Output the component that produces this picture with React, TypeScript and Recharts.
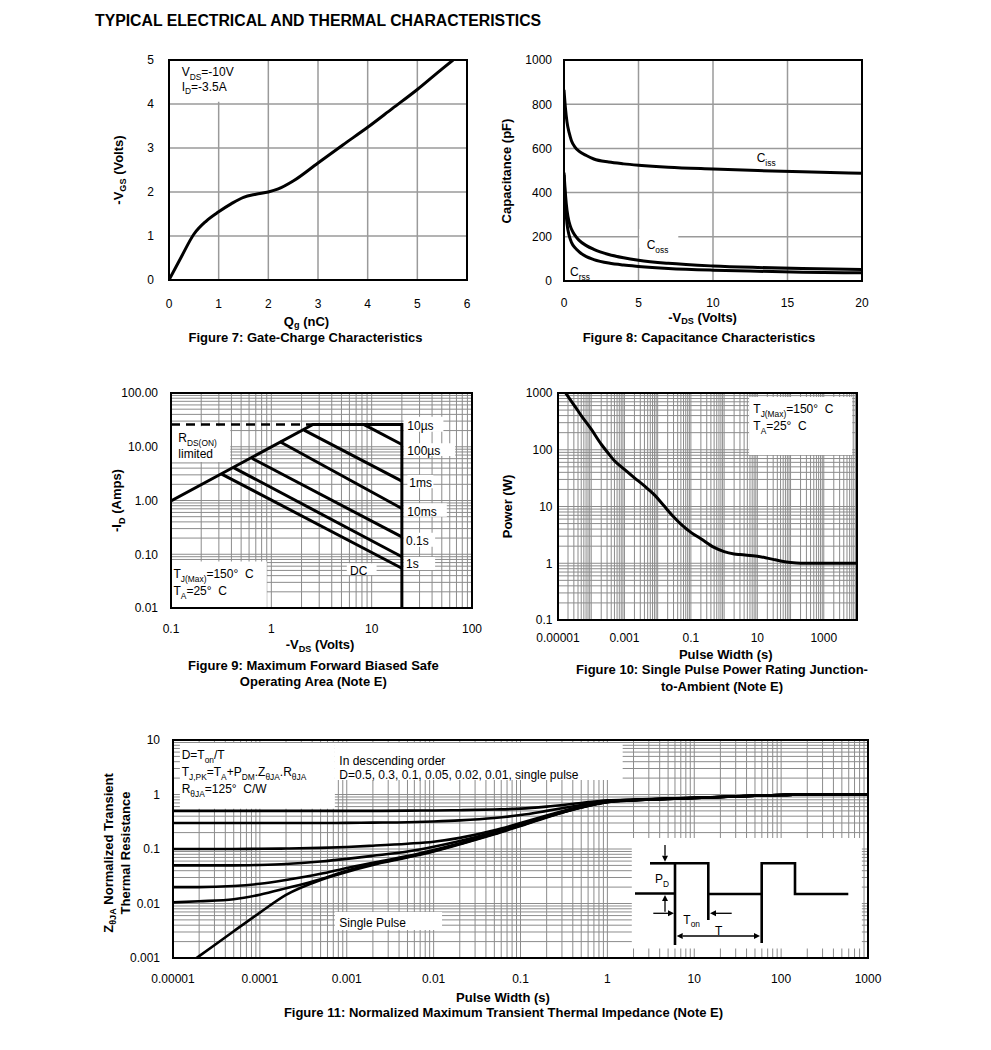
import React from 'react';
import { LineChart, Line, XAxis, YAxis, CartesianGrid, ReferenceArea } from 'recharts';

const FONT = '"Liberation Sans", Arial, Helvetica, sans-serif';

// ---------------- Figure 7: gate charge ----------------
const fig7Qg = [0, 0.25, 0.5, 0.75, 1, 1.25, 1.5, 1.75, 2, 2.2, 2.5, 3, 3.5, 4, 4.5, 5, 5.5, 5.72];
const fig7Vgs = [0, 0.53, 1.04, 1.34, 1.55, 1.73, 1.88, 1.95, 2.0, 2.07, 2.25, 2.66, 3.07, 3.47, 3.9, 4.33, 4.8, 5.0];
const fig7XTicks = [0, 1, 2, 3, 4, 5, 6];
const fig7YTicks = [0, 1, 2, 3, 4, 5];

// ---------------- Figure 8: capacitance ----------------
const fig8Vds = [0, 0.1, 0.2, 0.35, 0.5, 0.75, 1, 1.5, 2, 3, 4, 5, 7, 10, 13, 16, 20];
const fig8Ciss = [865, 780, 720, 670, 635, 605, 588, 568, 552, 538, 530, 524, 515, 507, 500, 494, 488];
const fig8Coss = [490, 390, 320, 265, 235, 205, 185, 160, 143, 120, 105, 94, 80, 68, 61, 56, 52];
const fig8Crss = [480, 340, 260, 205, 175, 150, 133, 110, 97, 81, 72, 66, 57, 49, 44, 40, 37];
const fig8XTicks = [0, 5, 10, 15, 20];
const fig8YTicks = [0, 200, 400, 600, 800, 1000];

// ---------------- Figure 9: safe operating area ----------------
const soaLimitV = [0.1, 2.6, 20, 20];
const soaLimitI = [0.98, 26, 26, 0.01];
const soaDashV = [0.1, 2.6];
const soaDashI = [26, 26];
const soa100usV = [8.3, 20];
const soa100usI = [26, 11];
const soa1msV = [2.12, 20];
const soa1msI = [20.4, 2.3];
const soa10msV = [1.22, 20];
const soa10msI = [12.4, 0.71];
const soa100msV = [0.64, 20];
const soa100msI = [6.1, 0.21];
const soa1sV = [0.42, 20];
const soa1sI = [4.1, 0.09];
const soaDcV = [0.32, 20];
const soaDcI = [3.1, 0.055];
const fig9XTicks = [0.1, 1, 10, 100];
const fig9XLabels = ['0.1', '1', '10', '100'];
const fig9YTicks = [0.01, 0.1, 1, 10, 100];
const fig9YLabels = ['0.01', '0.10', '1.00', '10.00', '100.00'];

// ---------------- Figure 10: single pulse power ----------------
const fig10T = [1.7e-5, 3e-5, 5e-5, 1e-4, 2e-4, 3e-4, 5e-4, 1e-3, 2e-3, 4e-3, 8e-3, 0.015, 0.03, 0.05, 0.1, 0.2, 0.5, 1, 2, 3, 10, 20, 30, 50, 100, 200, 1000, 10000];
const fig10P = [1000, 620, 400, 230, 125, 92, 64, 45, 32, 23, 16, 10.5, 6.6, 4.9, 3.5, 2.7, 1.9, 1.6, 1.46, 1.42, 1.33, 1.23, 1.17, 1.1, 1.03, 1.0, 1.0, 1.0];
const fig10XTicks = [1e-5, 1e-3, 0.1, 10, 1000];
const fig10XLabels = ['0.00001', '0.001', '0.1', '10', '1000'];
const fig10YTicks = [0.1, 1, 10, 100, 1000];
const fig10YLabels = ['0.1', '1', '10', '100', '1000'];

// ---------------- Figure 11: transient thermal impedance ----------------
const fig11T = [1e-5, 2e-5, 5e-5, 1e-4, 2e-4, 5e-4, 1e-3, 2e-3, 5e-3, 0.01, 0.02, 0.05, 0.1, 0.2, 0.5, 1, 2, 5, 10, 20, 50, 100, 200, 500, 1000];
const zD05 = [0.5, 0.5, 0.5, 0.5, 0.5, 0.5, 0.5, 0.5, 0.505, 0.51, 0.515, 0.53, 0.55, 0.6, 0.7, 0.78, 0.81, 0.84, 0.87, 0.9, 0.95, 0.98, 1.0, 1.0, 1.0];
const zD03 = [0.3, 0.3, 0.3, 0.3, 0.3, 0.3, 0.302, 0.305, 0.31, 0.32, 0.335, 0.37, 0.42, 0.5, 0.64, 0.76, 0.8, 0.84, 0.87, 0.9, 0.95, 0.98, 1.0, 1.0, 1.0];
const zD01 = [0.1, 0.1, 0.1, 0.101, 0.102, 0.105, 0.109, 0.115, 0.125, 0.136, 0.16, 0.22, 0.3, 0.41, 0.6, 0.74, 0.79, 0.835, 0.865, 0.9, 0.95, 0.98, 1.0, 1.0, 1.0];
const zD005 = [0.05, 0.05, 0.05, 0.051, 0.053, 0.059, 0.066, 0.075, 0.09, 0.11, 0.14, 0.205, 0.285, 0.4, 0.59, 0.735, 0.79, 0.835, 0.865, 0.9, 0.95, 0.98, 1, 1, 1];
const zD002 = [0.02, 0.02, 0.021, 0.023, 0.027, 0.035, 0.045, 0.056, 0.074, 0.096, 0.128, 0.195, 0.275, 0.39, 0.585, 0.73, 0.785, 0.83, 0.86, 0.9, 0.95, 0.98, 1, 1, 1];
const zD001 = [0.0105, 0.011, 0.012, 0.0145, 0.019, 0.028, 0.04, 0.053, 0.072, 0.092, 0.124, 0.19, 0.27, 0.385, 0.58, 0.728, 0.783, 0.83, 0.86, 0.9, 0.95, 0.98, 1, 1, 1];
const zSingle = [0.00049, 0.00108, 0.0031, 0.0068, 0.0144, 0.027, 0.038, 0.051, 0.07, 0.09, 0.122, 0.186, 0.265, 0.38, 0.575, 0.725, 0.78, 0.83, 0.86, 0.9, 0.95, 0.98, 1, 1, 1];
const fig11XTicks = [1e-5, 1e-4, 1e-3, 0.01, 0.1, 1, 10, 100, 1000];
const fig11XLabels = ['0.00001', '0.0001', '0.001', '0.01', '0.1', '1', '10', '100', '1000'];
const fig11YTicks = [0.001, 0.01, 0.1, 1, 10];
const fig11YLabels = ['0.001', '0.01', '0.1', '1', '10'];

// ---------------- helpers ----------------
type Box = { x: number; y: number; w: number; h: number };
const B7: Box = { x: 169, y: 60, w: 298, h: 220 };
const B8: Box = { x: 564, y: 60, w: 298, h: 221 };
const B9: Box = { x: 171, y: 393, w: 301, h: 215 };
const B10: Box = { x: 558, y: 393, w: 299, h: 227 };
const B11: Box = { x: 173, y: 740, w: 695, h: 218 };

const pts = (xs: number[], ys: number[]) => xs.map((x, i) => ({ x, y: ys[i] }));

function logGrid(minExp: number, maxExp: number): number[] {
  const out: number[] = [];
  for (let e = minExp; e < maxExp; e++) {
    for (let k = 1; k < 10; k++) out.push(Number((k * Math.pow(10, e)).toPrecision(4)));
  }
  out.push(Math.pow(10, maxExp));
  return out;
}

const YW = 60, XH = 30, PL = 70, PT = 10, PR = 30, PB = 40;
const dims = (b: Box) => ({
  width: b.w + PL + PR,
  height: b.h + PT + PB,
  margin: { top: PT, right: PR, left: PL - YW, bottom: PB - XH },
});

function Frame({ box, children }: { box: Box; children: React.ReactNode }) {
  return (
    <>
      <div style={{ position: 'absolute', left: box.x - PL, top: box.y - PT }}>{children}</div>
      <div
        style={{
          position: 'absolute',
          left: box.x - 1,
          top: box.y - 1,
          width: box.w + 2,
          height: box.h + 2,
          border: '2px solid #000',
          boxSizing: 'border-box',
          pointerEvents: 'none',
        }}
      />
    </>
  );
}

function makeTick(values: number[], labels: string[], side: 'x' | 'y', off: number) {
  return (props: any) => {
    const { x, y, payload } = props;
    const v = payload && payload.value;
    const idx = values.findIndex((t) => Math.abs(t - v) <= Math.abs(t) * 1e-6 + 1e-12);
    const text = idx >= 0 ? labels[idx] : '';
    if (side === 'x') {
      return (
        <text x={x} y={y + off} textAnchor="middle" fontFamily={FONT} fontSize={12} fill="#000">
          {text}
        </text>
      );
    }
    return (
      <text x={x - off} y={y + 4.3} textAnchor="end" fontFamily={FONT} fontSize={12} fill="#000">
        {text}
      </text>
    );
  };
}

const axisCommon = {
  axisLine: false,
  tickLine: false,
  tickSize: 0,
  tickMargin: 0,
  interval: 0 as const,
  allowDataOverflow: true,
  type: 'number' as const,
};

type Seg = string | { s: string };
function RT({
  x,
  y,
  segs,
  size = 12,
  bold = false,
  anchor = 'start',
  rot = false,
  subShift = 0.3,
}: {
  x: number;
  y: number;
  segs: Seg[];
  size?: number;
  bold?: boolean;
  anchor?: 'start' | 'middle' | 'end';
  rot?: boolean;
  subShift?: number;
}) {
  const subSize = size * 0.7;
  const shift = size * subShift;
  let cur = 0;
  const kids = segs.map((sg, i) => {
    const isSub = typeof sg !== 'string';
    const target = isSub ? shift : 0;
    const dy = target - cur;
    cur = target;
    return (
      <tspan key={i} dy={dy} fontSize={isSub ? subSize : size}>
        {isSub ? (sg as { s: string }).s : (sg as string)}
      </tspan>
    );
  });
  return (
    <text
      x={x}
      y={y}
      fontFamily={FONT}
      fontSize={size}
      fontWeight={bold ? 700 : 400}
      textAnchor={anchor}
      fill="#000"
      transform={rot ? `rotate(-90 ${x} ${y})` : undefined}
      style={{ whiteSpace: 'pre' }}
    >
      {kids}
    </text>
  );
}

const TS = 13; // bold titles / captions
const GRID = '#8c8c8c';
const white = { fill: '#fff', fillOpacity: 1, stroke: 'none', ifOverflow: 'hidden' as const };
const lineProps = { dataKey: 'y', stroke: '#000', dot: false, activeDot: false, isAnimationActive: false, strokeWidth: 3 };

function Arrow({ x1, y1, x2, y2 }: { x1: number; y1: number; x2: number; y2: number }) {
  const dx = x2 - x1, dy = y2 - y1;
  const len = Math.hypot(dx, dy);
  const ux = dx / len, uy = dy / len;
  const hl = 6, hw = 3;
  const bx = x2 - ux * hl, by = y2 - uy * hl;
  return (
    <g>
      <line x1={x1} y1={y1} x2={bx} y2={by} stroke="#000" strokeWidth={1.3} />
      <polygon points={`${x2},${y2} ${bx - uy * hw},${by + ux * hw} ${bx + uy * hw},${by - ux * hw}`} fill="#000" />
    </g>
  );
}

export default function App() {
  const g9x = logGrid(-1, 2);
  const g9y = logGrid(-2, 2);
  const g10x = logGrid(-5, 4);
  const g10y = logGrid(-1, 3);
  const g11x = logGrid(-5, 3);
  const g11y = logGrid(-3, 1);

  return (
    <div style={{ position: 'absolute', left: 0, top: 0, width: 991, height: 1050, background: '#fff', overflow: 'hidden' }}>
      {/* Figure 7 */}
      <Frame box={B7}>
        <LineChart {...dims(B7)}>
          <CartesianGrid stroke="#9a9a9a" strokeWidth={1.5} horizontalValues={fig7YTicks} verticalValues={fig7XTicks} />
          <XAxis {...axisCommon} dataKey="x" height={XH} domain={[0, 6]} ticks={fig7XTicks} tick={makeTick(fig7XTicks, fig7XTicks.map(String), 'x', 28)} />
          <YAxis {...axisCommon} width={YW} domain={[0, 5]} ticks={fig7YTicks} tick={makeTick(fig7YTicks, fig7YTicks.map(String), 'y', 15)} />
          <ReferenceArea x1={0} x2={1.45} y1={4.05} y2={5} {...white} />
          <Line {...lineProps} type="monotone" data={pts(fig7Qg, fig7Vgs)} />
        </LineChart>
      </Frame>

      {/* Figure 8 */}
      <Frame box={B8}>
        <LineChart {...dims(B8)}>
          <CartesianGrid stroke="#9a9a9a" strokeWidth={1.5} horizontalValues={fig8YTicks} verticalValues={fig8XTicks} />
          <XAxis {...axisCommon} dataKey="x" height={XH} domain={[0, 20]} ticks={fig8XTicks} tick={makeTick(fig8XTicks, fig8XTicks.map(String), 'x', 26)} />
          <YAxis {...axisCommon} width={YW} domain={[0, 1000]} ticks={fig8YTicks} tick={makeTick(fig8YTicks, fig8YTicks.map(String), 'y', 12)} />
          <ReferenceArea x1={5.05} x2={7.67} y1={150} y2={235} {...white} />
          <Line {...lineProps} type="monotone" data={pts(fig8Vds, fig8Ciss)} />
          <Line {...lineProps} type="monotone" data={pts(fig8Vds, fig8Coss)} />
          <Line {...lineProps} type="monotone" data={pts(fig8Vds, fig8Crss)} />
        </LineChart>
      </Frame>

      {/* Figure 9 */}
      <Frame box={B9}>
        <LineChart {...dims(B9)}>
          <CartesianGrid stroke={GRID} strokeWidth={1} horizontalValues={g9y} verticalValues={g9x} />
          <XAxis {...axisCommon} dataKey="x" scale="log" height={XH} domain={[0.1, 100]} ticks={fig9XTicks} tick={makeTick(fig9XTicks, fig9XLabels, 'x', 25)} />
          <YAxis {...axisCommon} scale="log" width={YW} domain={[0.01, 100]} ticks={fig9YTicks} tick={makeTick(fig9YTicks, fig9YLabels, 'y', 13)} />
          <ReferenceArea x1={0.1} x2={0.39} y1={5.2} y2={24} {...white} />
          <ReferenceArea x1={0.1} x2={0.9} y1={0.01} y2={0.073} {...white} />
          <ReferenceArea x1={20.8} x2={51.9} y1={19} y2={36} {...white} />
          <ReferenceArea x1={20.8} x2={67.9} y1={6.7} y2={11.6} {...white} />
          <ReferenceArea x1={22.7} x2={41.2} y1={1.69} y2={2.98} {...white} />
          <ReferenceArea x1={20.8} x2={56.1} y1={0.5} y2={0.887} {...white} />
          <ReferenceArea x1={20.8} x2={42.9} y1={0.138} y2={0.252} {...white} />
          <ReferenceArea x1={20.8} x2={42.9} y1={0.051} y2={0.089} {...white} />
          <ReferenceArea x1={5.65} x2={11.2} y1={0.041} y2={0.068} {...white} />
          <Line {...lineProps} type="linear" data={pts(soaDashV, soaDashI)} strokeDasharray="9 6" strokeWidth={2.6} />
          <Line {...lineProps} type="linear" data={pts(soaLimitV, soaLimitI)} />
          <Line {...lineProps} type="linear" data={pts(soa100usV, soa100usI)} />
          <Line {...lineProps} type="linear" data={pts(soa1msV, soa1msI)} />
          <Line {...lineProps} type="linear" data={pts(soa10msV, soa10msI)} />
          <Line {...lineProps} type="linear" data={pts(soa100msV, soa100msI)} />
          <Line {...lineProps} type="linear" data={pts(soa1sV, soa1sI)} />
          <Line {...lineProps} type="linear" data={pts(soaDcV, soaDcI)} />
        </LineChart>
      </Frame>

      {/* Figure 10 */}
      <Frame box={B10}>
        <LineChart {...dims(B10)}>
          <CartesianGrid stroke={GRID} strokeWidth={1} horizontalValues={g10y} verticalValues={g10x} />
          <XAxis {...axisCommon} dataKey="x" scale="log" height={XH} domain={[1e-5, 1e4]} ticks={fig10XTicks} tick={makeTick(fig10XTicks, fig10XLabels, 'x', 21.5)} />
          <YAxis {...axisCommon} scale="log" width={YW} domain={[0.1, 1000]} ticks={fig10YTicks} tick={makeTick(fig10YTicks, fig10YLabels, 'y', 5.5)} />
          <ReferenceArea x1={5.66} x2={7160} y1={81} y2={851} {...white} />
          <Line {...lineProps} type="monotone" data={pts(fig10T, fig10P)} />
        </LineChart>
      </Frame>

      {/* Figure 11 */}
      <Frame box={B11}>
        <LineChart {...dims(B11)}>
          <CartesianGrid stroke={GRID} strokeWidth={1} horizontalValues={g11y} verticalValues={g11x} />
          <XAxis {...axisCommon} dataKey="x" scale="log" height={XH} domain={[1e-5, 1e3]} ticks={fig11XTicks} tick={makeTick(fig11XTicks, fig11XLabels, 'x', 25)} />
          <YAxis {...axisCommon} scale="log" width={YW} domain={[0.001, 10]} ticks={fig11YTicks} tick={makeTick(fig11YTicks, fig11YLabels, 'y', 13)} />
          <ReferenceArea x1={1.2e-5} x2={7.3e-4} y1={0.55} y2={8.8} {...white} />
          <ReferenceArea x1={7.3e-4} x2={1.5} y1={1.84} y2={8.8} {...white} />
          <ReferenceArea x1={7.3e-4} x2={0.0125} y1={0.00327} y2={0.007} {...white} />
          <ReferenceArea x1={1.91} x2={850} y1={0.0015} y2={0.159} {...white} />
          <Line {...lineProps} type="monotone" data={pts(fig11T, zD05)} strokeWidth={2.6} />
          <Line {...lineProps} type="monotone" data={pts(fig11T, zD03)} strokeWidth={2.6} />
          <Line {...lineProps} type="monotone" data={pts(fig11T, zD01)} strokeWidth={2.6} />
          <Line {...lineProps} type="monotone" data={pts(fig11T, zD005)} strokeWidth={2.6} />
          <Line {...lineProps} type="monotone" data={pts(fig11T, zD002)} strokeWidth={2.6} />
          <Line {...lineProps} type="monotone" data={pts(fig11T, zD001)} strokeWidth={2.6} />
          <Line {...lineProps} type="monotone" data={pts(fig11T, zSingle)} strokeWidth={2.6} />
        </LineChart>
      </Frame>

      {/* Text overlay */}
      <svg width={991} height={1050} style={{ position: 'absolute', left: 0, top: 0, pointerEvents: 'none' }}>
        <RT x={95} y={25.5} segs={['TYPICAL ELECTRICAL AND THERMAL CHARACTERISTICS']} size={15.8} bold />

        {/* Fig 7 */}
        <RT x={181.7} y={76} segs={['V', { s: 'DS' }, '=-10V']} />
        <RT x={181.7} y={90.7} segs={['I', { s: 'D' }, '=-3.5A']} />
        <RT x={122.5} y={170} segs={['-V', { s: 'GS' }, ' (Volts)']} size={TS} bold rot anchor="middle" />
        <RT x={306.5} y={325.5} segs={['Q', { s: 'g' }, ' (nC)']} size={TS} bold anchor="middle" subShift={0.22} />
        <RT x={305.5} y={342} segs={['Figure 7: Gate-Charge Characteristics']} size={TS} bold anchor="middle" />

        {/* Fig 8 */}
        <RT x={756.7} y={162} segs={['C', { s: 'iss' }]} />
        <RT x={646.7} y={249} segs={['C', { s: 'oss' }]} />
        <RT x={570} y={276} segs={['C', { s: 'rss' }]} />
        <RT x={511} y={171} segs={['Capacitance (pF)']} size={TS} bold rot anchor="middle" />
        <RT x={702.6} y={321.5} segs={['-V', { s: 'DS' }, ' (Volts)']} size={TS} bold anchor="middle" subShift={0.22} />
        <RT x={699} y={342} segs={['Figure 8: Capacitance Characteristics']} size={TS} bold anchor="middle" />

        {/* Fig 9 */}
        <RT x={178.3} y={442} segs={['R', { s: 'DS(ON)' }]} />
        <RT x={178.3} y={457.5} segs={['limited']} />
        <RT x={173.5} y={578} segs={['T', { s: 'J(Max)' }, '=150°\u00a0 C']} />
        <RT x={173.5} y={595} segs={['T', { s: 'A' }, '=25°\u00a0 C']} />
        <RT x={407.3} y={430} segs={['10µs']} />
        <RT x={407.3} y={455} segs={['100µs']} />
        <RT x={409.3} y={487} segs={['1ms']} />
        <RT x={407.3} y={515.7} segs={['10ms']} />
        <RT x={406} y={545} segs={['0.1s']} />
        <RT x={406} y={568} segs={['1s']} />
        <RT x={350} y={574.5} segs={['DC']} />
        <RT x={121} y={500.5} segs={['-I', { s: 'D' }, ' (Amps)']} size={TS} bold rot anchor="middle" />
        <RT x={320} y={649} segs={['-V', { s: 'DS' }, ' (Volts)']} size={TS} bold anchor="middle" subShift={0.22} />
        <RT x={313.3} y={669.5} segs={['Figure 9: Maximum Forward Biased Safe']} size={TS} bold anchor="middle" />
        <RT x={313.3} y={685.5} segs={['Operating Area (Note E)']} size={TS} bold anchor="middle" />

        {/* Fig 10 */}
        <RT x={753.3} y={413} segs={['T', { s: 'J(Max)' }, '=150°\u00a0 C']} />
        <RT x={753.3} y={430} segs={['T', { s: 'A' }, '=25°\u00a0 C']} />
        <RT x={511.5} y={506.5} segs={['Power (W)']} size={TS} bold rot anchor="middle" />
        <RT x={725.8} y={659} segs={['Pulse Width (s)']} size={TS} bold anchor="middle" />
        <RT x={722} y={673.5} segs={['Figure 10: Single Pulse Power Rating Junction-']} size={TS} bold anchor="middle" />
        <RT x={722} y={690.5} segs={['to-Ambient (Note E)']} size={TS} bold anchor="middle" />

        {/* Fig 11 */}
        <RT x={181.7} y={759} segs={['D=T', { s: 'on' }, '/T']} />
        <RT x={181.7} y={776} segs={['T', { s: 'J,PK' }, '=T', { s: 'A' }, '+P', { s: 'DM' }, '.Z', { s: 'θJA' }, '.R', { s: 'θJA' }]} />
        <RT x={181.7} y={793} segs={['R', { s: 'θJA' }, '=125°\u00a0 C/W']} />
        <RT x={339.3} y={764.5} segs={['In descending order']} />
        <RT x={339.3} y={779} segs={['D=0.5, 0.3, 0.1, 0.05, 0.02, 0.01, single pulse']} />
        <RT x={339.3} y={926.5} segs={['Single Pulse']} />
        <RT x={112.5} y={853} segs={['Z', { s: 'θJA' }, ' Normalized Transient']} size={TS} bold rot anchor="middle" />
        <RT x={129.5} y={853} segs={['Thermal Resistance']} size={TS} bold rot anchor="middle" />
        <RT x={503} y={1002} segs={['Pulse Width (s)']} size={TS} bold anchor="middle" />
        <RT x={503.5} y={1017} segs={['Figure 11: Normalized Maximum Transient Thermal Impedance (Note E)']} size={TS} bold anchor="middle" />

        {/* Fig 11 inset: pulse train */}
        <g transform="translate(632 838)">
          <g stroke="#000" strokeWidth={2.6} fill="none">
            <polyline points="3,55.5 43,55.5" />
            <polyline points="18,25.3 43,25.3" />
            <polyline points="43,107 43,25.3 76.3,25.3 76.3,82" />
            <polyline points="76.3,56 129.7,56" />
            <polyline points="129.7,105 129.7,25.3 163,25.3 163,56 216.3,56" />
          </g>
          <Arrow x1={33} y1={7} x2={33} y2={23.7} />
          <Arrow x1={33} y1={73.7} x2={33} y2={57} />
          <Arrow x1={21.3} y1={75.3} x2={42} y2={75.3} />
          <Arrow x1={99.7} y1={75.3} x2={78} y2={75.3} />
          <Arrow x1={86} y1={98} x2={128} y2={98} />
          <Arrow x1={86} y1={98} x2={44.7} y2={98} />
          <RT x={23} y={45.3} segs={['P', { s: 'D' }]} />
          <RT x={51.3} y={85.5} segs={['T', { s: 'on' }]} />
          <RT x={83} y={96.5} segs={['T']} />
        </g>
      </svg>
    </div>
  );
}
